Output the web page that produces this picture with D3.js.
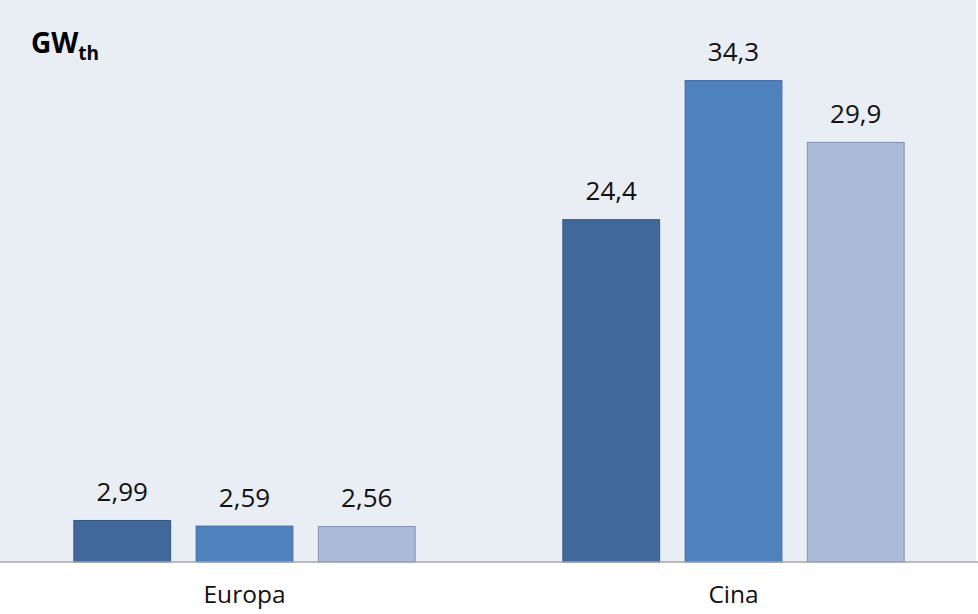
<!DOCTYPE html>
<html lang="it">
<head>
    <meta charset="UTF-8">
    <title>GWth Europa / Cina</title>
    <script src="https://d3js.org/d3.v7.min.js"></script>
    <style>
        body { margin: 0; background: #fff; }
    </style>
</head>
<body>
    <div id="graph"></div>
    <script>
        // valori
        const categories = ["Europa", "Cina"];
        const series = ["s1", "s2", "s3"];
        const valuesS1 = [2.99, 24.4];
        const valuesS2 = [2.59, 34.3];
        const valuesS3 = [2.56, 29.9];
        const unitLabel = "GW";
        const unitSub = "th";

        const fills = ["#41689a", "#4f81bd", "#aabad7"];
        const strokes = ["#355884", "#3f6da5", "#8193b3"];

        const data = categories.map((c, i) => ({
            cat: c,
            vals: [valuesS1[i], valuesS2[i], valuesS3[i]]
        }));

        const W = 978, H = 614;
        const base = 562;

        const svg = d3.select("#graph")
            .append("svg")
            .attr("width", W)
            .attr("height", H);

        // sfondo area grafico
        svg.append("rect")
            .attr("x", 0).attr("y", 0)
            .attr("width", 976).attr("height", base)
            .attr("fill", "#e9edf4");

        const x0 = d3.scaleBand()
            .domain(categories)
            .range([0, W])
            .paddingInner(0.3)
            .paddingOuter(0.15);

        const x1 = d3.scaleBand()
            .domain(series)
            .range([0, x0.bandwidth()])
            .paddingInner(0.2)
            .paddingOuter(0);

        const y = d3.scaleLinear()
            .domain([0, 40])
            .range([base, 0]);

        const fmt = v => String(v).replace(".", ",");

        const groups = svg.selectAll(".grp")
            .data(data)
            .join("g")
            .attr("class", "grp")
            .attr("transform", d => `translate(${x0(d.cat)},0)`);

        groups.selectAll("rect")
            .data(d => d.vals.map((v, j) => ({ s: series[j], v, j })))
            .join("rect")
            .attr("x", d => x1(d.s) + 0.5)
            .attr("y", d => y(d.v) + 0.5)
            .attr("width", x1.bandwidth() - 1)
            .attr("height", d => base - y(d.v) - 0.5)
            .attr("fill", d => fills[d.j])
            .attr("stroke", d => strokes[d.j])
            .attr("stroke-width", 1);

        groups.selectAll("text")
            .data(d => d.vals.map((v, j) => ({ s: series[j], v, j })))
            .join("text")
            .attr("x", d => x1(d.s) + x1.bandwidth() / 2)
            .attr("y", d => y(d.v) - 19)
            .attr("text-anchor", "middle")
            .attr("font-family", "Open Sans, sans-serif")
            .attr("font-size", 26)
            .attr("fill", "#111")
            .text(d => fmt(d.v));

        // asse x
        const xAxis = svg.append("g")
            .attr("transform", `translate(0,${base})`)
            .call(d3.axisBottom(x0).tickSize(0).tickPadding(0));
        xAxis.select(".domain")
            .attr("d", `M0,0H${W}`)
            .attr("stroke", "#a6a6a6")
            .attr("stroke-width", 1.5);
        xAxis.selectAll("text")
            .attr("dy", 0)
            .attr("y", 41)
            .attr("font-family", "Open Sans, sans-serif")
            .attr("font-size", 24.5)
            .attr("fill", "#111");

        // unità
        const u = svg.append("text")
            .attr("x", 31)
            .attr("y", 53)
            .attr("font-family", "Open Sans, sans-serif")
            .attr("font-weight", "bold")
            .attr("font-size", 28)
            .attr("fill", "#000")
            .text(unitLabel);
        u.append("tspan")
            .attr("dy", 7)
            .attr("font-size", 19)
            .text(unitSub);
    </script>
</body>
</html>
